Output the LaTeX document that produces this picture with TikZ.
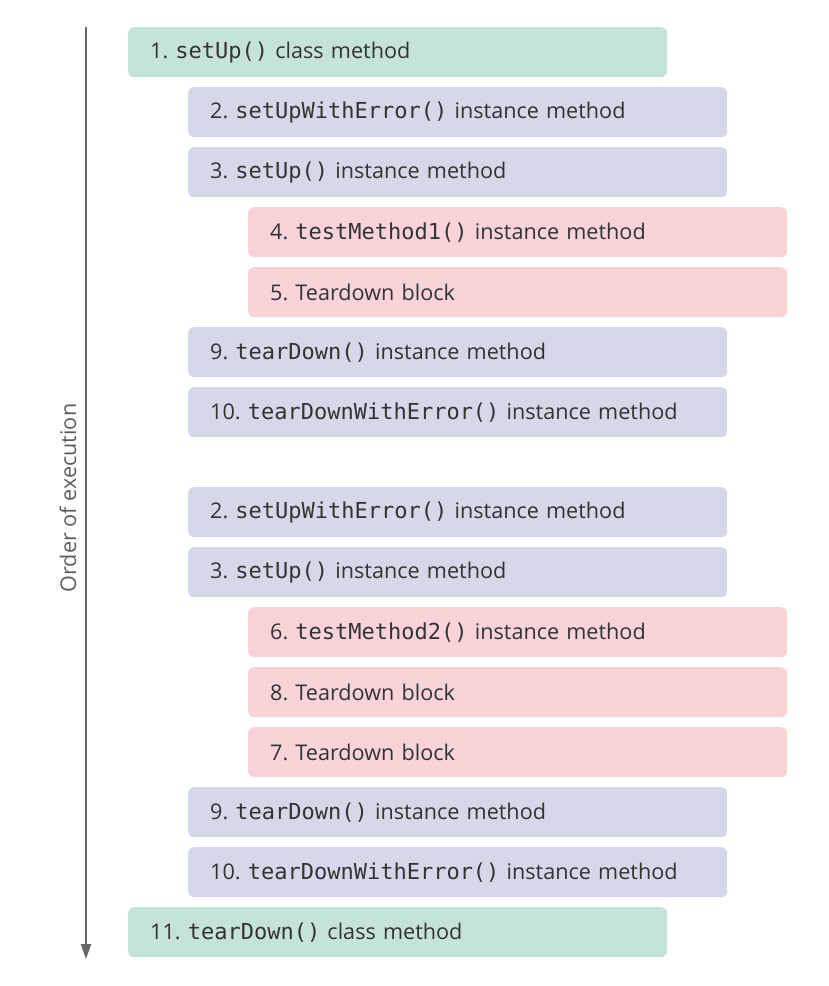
\documentclass[tikz,border=0pt]{standalone}
\usepackage{fontspec}
\setmainfont{Open Sans}
\setmonofont{DejaVu Sans Mono}
\usetikzlibrary{arrows.meta}
\frenchspacing
\definecolor{classgreen}{HTML}{C5E3DA}
\definecolor{instpurple}{HTML}{D5D8E8}
\definecolor{testpink}{HTML}{F8D3D8}
\definecolor{inktext}{HTML}{333333}
\definecolor{axisgray}{HTML}{666666}
\tikzset{
  stepbase/.style={rectangle, rounded corners=6pt, anchor=north west,
    minimum height=50pt, text width=495pt, inner xsep=22pt, inner ysep=0pt,
    align=left, text=inktext, font=\fontsize{21.6}{25}\selectfont},
  classbox/.style={stepbase, fill=classgreen},
  instbox/.style={stepbase, fill=instpurple},
  testbox/.style={stepbase, fill=testpink},
}
\newcommand{\cd}[1]{{\ttfamily\fontsize{22}{25}\selectfont #1}}

\begin{document}
\begin{tikzpicture}[x=1pt, y=-1pt]
\useasboundingbox (0,0) rectangle (828,986);
\node[classbox] (c1) at (128,27) {1. \cd{setUp()} class method};
\node[instbox] (a2) at (188,87) {2. \cd{setUpWithError()} instance method};
\node[instbox] (a3) at (188,147) {3. \cd{setUp()} instance method};
\node[testbox] (t4) at (248,207) {4. \cd{testMethod1()} instance method};
\node[testbox] (t5) at (248,267) {5. Teardown block};
\node[instbox] (a9) at (188,327) {9. \cd{tearDown()} instance method};
\node[instbox] (a10) at (188,387) {10. \cd{tearDownWithError()} instance method};
\node[instbox] (b2) at (188,487) {2. \cd{setUpWithError()} instance method};
\node[instbox] (b3) at (188,547) {3. \cd{setUp()} instance method};
\node[testbox] (t6) at (248,607) {6. \cd{testMethod2()} instance method};
\node[testbox] (t8) at (248,667) {8. Teardown block};
\node[testbox] (t7) at (248,727) {7. Teardown block};
\node[instbox] (b9) at (188,787) {9. \cd{tearDown()} instance method};
\node[instbox] (b10) at (188,847) {10. \cd{tearDownWithError()} instance method};
\node[classbox] (c11) at (128,907) {11. \cd{tearDown()} class method};
% time axis
\coordinate (axtop) at (86,27);
\coordinate (axbot) at (86,959);
\draw[axisgray, line width=2pt, -{Triangle[length=15pt, width=10pt]}] (axtop) -- (axbot);
\node[rotate=90, text=axisgray!90!black, font=\fontsize{21.6}{25}\selectfont] (order) at (68,498) {Order of execution};
\end{tikzpicture}
\end{document}
